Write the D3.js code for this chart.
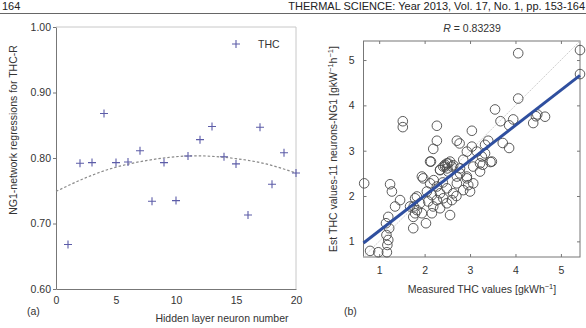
<!DOCTYPE html>
<html>
<head>
<meta charset="utf-8">
<script src="https://cdn.jsdelivr.net/npm/d3@7"></script>
<style>
  body { margin: 0; background: #fff; }
  svg { display: block; font-family: "Liberation Sans", Arial, sans-serif; }
</style>
</head>
<body>
<svg id="chart" width="586" height="328"></svg>
<script>
// ---- panel (a): regression R vs hidden layer neurons
const neurons = [1, 2, 3, 4, 5, 6, 7, 8, 9, 10, 11, 12, 13, 14, 15, 16, 17, 18, 19, 20];
const thcR = [0.668, 0.792, 0.793, 0.868, 0.793, 0.794, 0.811, 0.734, 0.793, 0.735,
  0.803, 0.828, 0.848, 0.802, 0.791, 0.713, 0.847, 0.760, 0.808, 0.777];
const trendX = [0, 2.5, 5, 7.5, 10, 12.5, 15, 17.5, 20];
const trendY = [0.749, 0.770, 0.786, 0.796, 0.802, 0.803, 0.799, 0.791, 0.777];
const aYTicks = [0.60, 0.70, 0.80, 0.90, 1.00];
const aXTicks = [0, 5, 10, 15, 20];

// ---- panel (b): measured vs estimated THC
const measured = [1.52, 1.52, 2.27, 2.27, 2.19, 2.14, 2.71, 2.77, 3.04, 3.55,
  3.67, 3.86, 3.95, 4.06, 4.06, 4.39, 4.45, 4.48, 4.65, 5.42,
  5.42, 3.72, 3.86, 3.40, 3.33, 3.45, 3.22, 3.28, 3.48, 0.67,
  1.24, 1.28, 1.46, 1.20, 1.15, 1.22, 1.16, 1.20, 1.18, 0.80,
  0.98, 1.17, 1.75, 2.03, 1.79, 1.76, 1.79, 1.94, 2.12, 2.56,
  2.34, 2.45, 2.56, 2.50, 1.35, 2.49, 2.60, 2.41, 2.52, 2.71,
  2.93, 3.07, 3.22, 3.26, 3.15, 3.33, 2.93, 3.04, 2.85, 2.78,
  2.34, 2.45, 2.52, 2.63, 2.78, 2.93, 2.96, 2.85, 2.71, 2.63,
  2.49, 2.34, 2.27, 2.16, 2.05, 2.08, 2.19, 2.34, 2.49, 2.60,
  3.07, 3.00, 1.90, 1.83, 1.94, 2.16, 2.41, 2.27, 2.12, 1.97,
  1.68, 1.75, 1.83, 2.70, 2.20, 2.40];
const estimated = [3.65, 3.52, 3.55, 3.22, 3.04, 2.76, 3.22, 3.16, 3.44, 3.91,
  3.65, 3.56, 3.69, 4.15, 5.15, 3.61, 3.76, 3.80, 3.75, 5.22,
  4.69, 3.17, 3.06, 3.22, 3.13, 2.75, 2.54, 2.69, 2.76, 2.28,
  2.26, 2.10, 1.91, 1.54, 1.40, 1.29, 1.14, 1.03, 0.92, 0.79,
  0.76, 0.76, 1.29, 1.40, 1.95, 1.77, 1.62, 2.43, 2.76, 1.58,
  2.58, 2.69, 2.76, 2.61, 1.77, 2.72, 2.65, 2.65, 2.54, 2.43,
  2.43, 2.65, 2.72, 2.87, 2.98, 2.94, 2.98, 3.09, 2.80, 2.61,
  2.57, 2.65, 2.72, 2.68, 2.50, 2.39, 2.24, 2.13, 2.28, 2.06,
  2.17, 2.06, 1.91, 2.02, 2.10, 1.88, 1.77, 1.73, 1.84, 1.91,
  2.28, 2.10, 1.84, 1.99, 1.62, 1.62, 1.95, 2.21, 2.28, 2.39,
  1.77, 1.54, 1.69, 2.00, 2.35, 2.30];
const fitLine = [0.776, 0.456];   // slope, intercept of the blue fit
const bLimits = [0.655, 5.42];
const bTicks = [1, 2, 3, 4, 5];

const svg = d3.select('#chart');
const ink = '#333';

// page header
svg.append('text').attr('x', 2).attr('y', 10).attr('font-size', 11).attr('fill', '#222').text('164');
svg.append('text').attr('x', 585).attr('y', 10).attr('text-anchor', 'end')
  .attr('font-size', 11).attr('fill', '#222')
  .text('THERMAL  SCIENCE: Year 2013, Vol. 17,  No. 1, pp. 153-164');
svg.append('line').attr('x1', 0).attr('x2', 586).attr('y1', 13.5).attr('y2', 13.5)
  .attr('stroke', '#666').attr('stroke-width', 1);

// ================= panel (a) =================
const ax = d3.scaleLinear().domain([0, 20]).range([56, 296]);
const ay = d3.scaleLinear().domain([0.6, 1.0]).range([289, 27]);
const ga = svg.append('g');

// light frame top/right
ga.append('path')
  .attr('d', `M${ax(0)},${ay(1)}H${ax(20)}V${ay(0.6)}`)
  .attr('fill', 'none').attr('stroke', '#c8c8c8').attr('stroke-width', 1);

const aYAxis = ga.append('g').attr('transform', `translate(${ax(0)},0)`)
  .call(d3.axisLeft(ay).tickValues(aYTicks).tickFormat(d3.format('.2f')).tickSizeInner(3).tickSizeOuter(0).tickPadding(2));
const aXAxis = ga.append('g').attr('transform', `translate(0,${ay(0.6)})`)
  .call(d3.axisBottom(ax).tickValues(aXTicks).tickSizeInner(0).tickSizeOuter(0).tickPadding(8));
[aYAxis, aXAxis].forEach(g => {
  g.selectAll('path, line').attr('stroke', '#777');
  g.selectAll('text').attr('fill', ink).attr('font-size', 10.5).attr('font-family', null);
});

ga.append('path')
  .datum(trendX.map((x, i) => [x, trendY[i]]))
  .attr('d', d3.line().x(d => ax(d[0])).y(d => ay(d[1])).curve(d3.curveNatural))
  .attr('fill', 'none').attr('stroke', '#8a8a8a').attr('stroke-width', 1.2)
  .attr('stroke-dasharray', '2.5,2');

const plusPath = (x, y) => `M${x - 4},${y}H${x + 4}M${x},${y - 4}V${y + 4}`;
ga.append('g').selectAll('path').data(neurons).join('path')
  .attr('d', (d, i) => plusPath(ax(d), ay(thcR[i])))
  .attr('stroke', '#5c5ca8').attr('stroke-width', 1.1).attr('fill', 'none');

// legend
ga.append('path').attr('d', plusPath(236, 44)).attr('stroke', '#5c5ca8').attr('stroke-width', 1.1);
ga.append('text').attr('x', 258).attr('y', 48).attr('font-size', 10.5).attr('fill', ink).text('THC');

ga.append('text')
  .attr('transform', `translate(17,${(ay(1) + ay(0.6)) / 2 - 28}) rotate(-90)`)
  .attr('text-anchor', 'middle').attr('font-size', 10.5).attr('fill', ink)
  .text('NG1-network regressions for THC-R');
ga.append('text').attr('x', 222).attr('y', 322).attr('text-anchor', 'middle')
  .attr('font-size', 10.5).attr('fill', ink).text('Hidden layer neuron number');
ga.append('text').attr('x', 27).attr('y', 315).attr('font-size', 10.5).attr('fill', ink).text('(a)');

// ================= panel (b) =================
const bx = d3.scaleLinear().domain(bLimits).range([363.5, 580]);
const by = d3.scaleLinear().domain(bLimits).range([257, 41]);
const gb = svg.append('g');

gb.append('rect').attr('x', bx.range()[0]).attr('y', by.range()[1])
  .attr('width', bx.range()[1] - bx.range()[0]).attr('height', by.range()[0] - by.range()[1])
  .attr('fill', 'none').attr('stroke', '#777').attr('stroke-width', 1);

const intFmt = d3.format('d');
const axes = [
  gb.append('g').attr('transform', `translate(0,${by.range()[0]})`)
    .call(d3.axisBottom(bx).tickValues(bTicks).tickFormat(intFmt).tickSizeInner(-3).tickSizeOuter(0).tickPadding(10)),
  gb.append('g').attr('transform', `translate(${bx.range()[0]},0)`)
    .call(d3.axisLeft(by).tickValues(bTicks).tickFormat(intFmt).tickSizeInner(-3).tickSizeOuter(0).tickPadding(9)),
  gb.append('g').attr('transform', `translate(0,${by.range()[1]})`)
    .call(d3.axisTop(bx).tickValues(bTicks).tickSizeInner(-3).tickSizeOuter(0).tickFormat('')),
  gb.append('g').attr('transform', `translate(${bx.range()[1]},0)`)
    .call(d3.axisRight(by).tickValues(bTicks).tickSizeInner(-3).tickSizeOuter(0).tickFormat(''))
];
axes.forEach(g => {
  g.select('.domain').remove();
  g.selectAll('line').attr('stroke', '#777');
  g.selectAll('text').attr('fill', ink).attr('font-size', 10.5).attr('font-family', null);
});

// Y = T reference
gb.append('line')
  .attr('x1', bx(bLimits[0])).attr('y1', by(bLimits[0]))
  .attr('x2', bx(bLimits[1])).attr('y2', by(bLimits[1]))
  .attr('stroke', '#c4c4c4').attr('stroke-width', 0.9).attr('stroke-dasharray', '1.5,1');

gb.append('g').selectAll('circle').data(measured).join('circle')
  .attr('cx', d => bx(d))
  .attr('cy', (d, i) => by(estimated[i]))
  .attr('r', 4.8)
  .attr('fill', 'none').attr('stroke', '#4a4a4a').attr('stroke-width', 0.9);

gb.append('line')
  .attr('x1', bx(bLimits[0])).attr('y1', by(fitLine[0] * bLimits[0] + fitLine[1]))
  .attr('x2', bx(bLimits[1])).attr('y2', by(fitLine[0] * bLimits[1] + fitLine[1]))
  .attr('stroke', '#2f4f9f').attr('stroke-width', 3);

const title = gb.append('text').attr('x', 472).attr('y', 32).attr('text-anchor', 'middle')
  .attr('font-size', 10.5).attr('fill', ink);
title.append('tspan').attr('font-style', 'italic').text('R');
title.append('tspan').text(' = 0.83239');

const xl = gb.append('text').attr('x', 482).attr('y', 293).attr('text-anchor', 'middle')
  .attr('font-size', 10.5).attr('fill', ink);
xl.append('tspan').text('Measured THC values [gkWh');
xl.append('tspan').attr('dy', -4).attr('font-size', 7.5).text('−1');
xl.append('tspan').attr('dy', 4).text(']');

const yl = gb.append('text')
  .attr('transform', `translate(337,${(by.range()[0] + by.range()[1]) / 2}) rotate(-90)`)
  .attr('text-anchor', 'middle').attr('font-size', 10.5).attr('fill', ink);
yl.append('tspan').text('Est THC values-11 neurons-NG1 [gkW');
yl.append('tspan').attr('dy', -4).attr('font-size', 7.5).text('−1');
yl.append('tspan').attr('dy', 4).text('h');
yl.append('tspan').attr('dy', -4).attr('font-size', 7.5).text('−1');
yl.append('tspan').attr('dy', 4).text(']');

gb.append('text').attr('x', 344).attr('y', 315).attr('font-size', 10.5).attr('fill', ink).text('(b)');
</script>
</body>
</html>
